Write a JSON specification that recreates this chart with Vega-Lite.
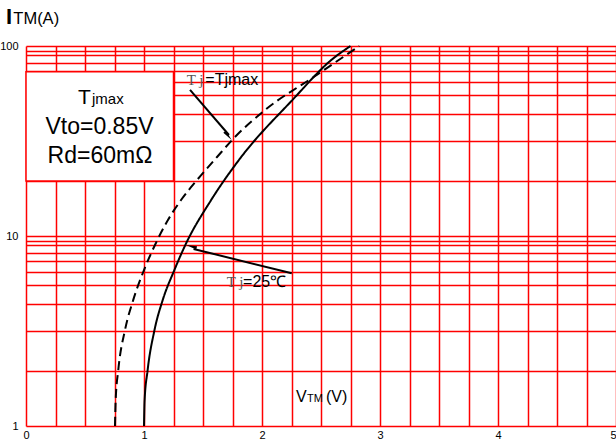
{
  "$schema": "https://vega.github.io/schema/vega-lite/v6.json",
  "width": 590,
  "height": 380,
  "autosize": "none",
  "padding": {"left": 26, "top": 46, "right": 0, "bottom": 15},
  "background": "white",
  "config": {"view": {"stroke": null}, "font": "Liberation Sans"},
  "data": {"values": [{}]},
  "datasets": {
    "curves": [
      {"series": "25C", "v": 1.0, "i": 1},
      {"series": "25C", "v": 1.005, "i": 1.36},
      {"series": "25C", "v": 1.03, "i": 1.95},
      {"series": "25C", "v": 1.088, "i": 3.18},
      {"series": "25C", "v": 1.158, "i": 4.59},
      {"series": "25C", "v": 1.257, "i": 6.61},
      {"series": "25C", "v": 1.35, "i": 8.96},
      {"series": "25C", "v": 1.57, "i": 15.5},
      {"series": "25C", "v": 1.806, "i": 25.2},
      {"series": "25C", "v": 2.263, "i": 52.4},
      {"series": "25C", "v": 2.593, "i": 85},
      {"series": "25C", "v": 2.75, "i": 100},
      {"series": "Tjmax", "v": 0.754, "i": 1},
      {"series": "Tjmax", "v": 0.76, "i": 1.37},
      {"series": "Tjmax", "v": 0.782, "i": 1.97},
      {"series": "Tjmax", "v": 0.839, "i": 3.2},
      {"series": "Tjmax", "v": 0.909, "i": 4.61},
      {"series": "Tjmax", "v": 1.0, "i": 6.62},
      {"series": "Tjmax", "v": 1.093, "i": 8.97},
      {"series": "Tjmax", "v": 1.203, "i": 12.14},
      {"series": "Tjmax", "v": 1.314, "i": 15.47},
      {"series": "Tjmax", "v": 1.449, "i": 19.7},
      {"series": "Tjmax", "v": 1.619, "i": 26.05},
      {"series": "Tjmax", "v": 1.763, "i": 32.8},
      {"series": "Tjmax", "v": 2.025, "i": 46.0},
      {"series": "Tjmax", "v": 2.464, "i": 70.4},
      {"series": "Tjmax", "v": 2.825, "i": 100}
    ]
  },
  "layer": [
    {
      "mark": {"type": "rect", "fill": "white", "stroke": "#ff0000", "strokeWidth": 1.5},
      "encoding": {
        "x": {"datum": 0, "type": "quantitative", "scale": {"domain": [0, 5], "nice": false, "zero": false}},
        "x2": {"datum": 1.25},
        "y": {"datum": 19.5, "type": "quantitative", "scale": {"type": "log", "domain": [1, 100], "nice": false}},
        "y2": {"datum": 73.2}
      }
    },
    {
      "data": {"name": "curves"},
      "mark": {"type": "line", "color": "black", "strokeWidth": 2, "interpolate": "monotone"},
      "encoding": {
        "x": {
          "field": "v", "type": "quantitative",
          "scale": {"domain": [0, 5], "nice": false, "zero": false},
          "axis": {
            "values": [0, 0.25, 0.5, 0.75, 1, 1.25, 1.5, 1.75, 2, 2.25, 2.5, 2.75, 3, 3.25, 3.5, 3.75, 4, 4.25, 4.5, 4.75, 5],
            "tickCount": 40,
            "labelExpr": "datum.value % 1 === 0 ? format(datum.value, 'd') : ''",
            "labelAlign": {"condition": {"test": "datum.value == 5", "value": "right"}, "value": "center"},
            "title": null, "domain": false, "ticks": false,
            "grid": true, "gridColor": "#ff0000", "gridWidth": 1.5, "gridOpacity": 1,
            "labelFontSize": 11, "labelColor": "black", "labelPadding": 3,
            "labelFont": "Liberation Sans", "labelOverlap": false, "labelFlush": false
          }
        },
        "y": {
          "field": "i", "type": "quantitative",
          "scale": {"type": "log", "domain": [1, 100], "nice": false},
          "axis": {
            "values": [1, 1.94, 3.15, 4.38, 5.5, 6.45, 7.35, 8.1, 8.92, 9.42, 10, 19.4, 31.5, 43.8, 55, 64.5, 73.5, 81, 89.2, 94.2, 100],
            "tickCount": 40,
            "labelExpr": "datum.value == 1 || datum.value == 10 || datum.value == 100 ? format(datum.value, 'd') : ''",
            "title": null, "domain": false, "ticks": false,
            "grid": true, "gridColor": "#ff0000", "gridWidth": 1.5, "gridOpacity": 1,
            "labelFontSize": 11, "labelColor": "black", "labelPadding": 8,
            "labelFont": "Liberation Sans", "labelOverlap": false, "labelFlush": false
          }
        },
        "strokeDash": {
          "field": "series", "type": "nominal",
          "scale": {"domain": ["25C", "Tjmax"], "range": [[1, 0], [9, 5]]},
          "legend": null
        }
      }
    },
    {
      "mark": {"type": "rule", "color": "black", "strokeWidth": 2},
      "encoding": {
        "x": {"datum": 1.39, "type": "quantitative"},
        "y": {"datum": 58.7, "type": "quantitative"},
        "x2": {"datum": 1.72},
        "y2": {"datum": 34.0}
      }
    },
    {
      "mark": {"type": "point", "shape": "M0,0L0.3,2L-0.3,2Z", "filled": true, "color": "black", "opacity": 1, "size": 121, "angle": 140},
      "encoding": {
        "x": {"datum": 1.743, "type": "quantitative"},
        "y": {"datum": 32.0, "type": "quantitative"}
      }
    },
    {
      "mark": {"type": "rule", "color": "black", "strokeWidth": 2},
      "encoding": {
        "x": {"datum": 2.252, "type": "quantitative"},
        "y": {"datum": 6.36, "type": "quantitative"},
        "x2": {"datum": 1.42},
        "y2": {"datum": 8.55}
      }
    },
    {
      "mark": {"type": "point", "shape": "M0,0L0.3,2L-0.3,2Z", "filled": true, "color": "black", "opacity": 1, "size": 121, "angle": 285},
      "encoding": {
        "x": {"datum": 1.356, "type": "quantitative"},
        "y": {"datum": 8.97, "type": "quantitative"}
      }
    },
    {
      "mark": {"type": "text", "text": "T", "fontSize": 21, "align": "left", "baseline": "alphabetic", "color": "black", "font": "Liberation Sans"},
      "encoding": {"x": {"datum": 0.4407, "type": "quantitative"}, "y": {"datum": 49.5, "type": "quantitative"}}
    },
    {
      "mark": {"type": "text", "text": "jmax", "fontSize": 15, "align": "left", "baseline": "alphabetic", "color": "black", "font": "Liberation Sans"},
      "encoding": {"x": {"datum": 0.559, "type": "quantitative"}, "y": {"datum": 49.5, "type": "quantitative"}}
    },
    {
      "mark": {"type": "text", "text": "Vto=0.85V", "fontSize": 23, "align": "center", "baseline": "alphabetic", "color": "black", "font": "Liberation Sans"},
      "encoding": {"x": {"datum": 0.623, "type": "quantitative"}, "y": {"datum": 34.4, "type": "quantitative"}}
    },
    {
      "mark": {"type": "text", "text": "Rd=60mΩ", "fontSize": 23, "align": "center", "baseline": "alphabetic", "color": "black", "font": "Liberation Sans"},
      "encoding": {"x": {"datum": 0.627, "type": "quantitative"}, "y": {"datum": 24.2, "type": "quantitative"}}
    },
    {
      "mark": {"type": "text", "text": "T j", "fontSize": 15, "align": "left", "baseline": "alphabetic", "color": "#555555", "font": "Liberation Serif"},
      "encoding": {"x": {"datum": 1.362, "type": "quantitative"}, "y": {"datum": 62.3, "type": "quantitative"}}
    },
    {
      "mark": {"type": "text", "text": "=Tjmax", "fontSize": 16, "align": "left", "baseline": "alphabetic", "color": "black", "font": "Liberation Sans"},
      "encoding": {"x": {"datum": 1.52, "type": "quantitative"}, "y": {"datum": 62.3, "type": "quantitative"}}
    },
    {
      "mark": {"type": "text", "text": "T j", "fontSize": 15, "align": "left", "baseline": "alphabetic", "color": "#555555", "font": "Liberation Serif"},
      "encoding": {"x": {"datum": 1.701, "type": "quantitative"}, "y": {"datum": 5.37, "type": "quantitative"}}
    },
    {
      "mark": {"type": "text", "text": "=25℃", "fontSize": 16, "align": "left", "baseline": "alphabetic", "color": "black", "font": "Liberation Sans"},
      "encoding": {"x": {"datum": 1.84, "type": "quantitative"}, "y": {"datum": 5.37, "type": "quantitative"}}
    },
    {
      "mark": {"type": "text", "text": "V", "fontSize": 16, "align": "left", "baseline": "alphabetic", "color": "black", "font": "Liberation Sans"},
      "encoding": {"x": {"datum": 2.288, "type": "quantitative"}, "y": {"datum": 1.337, "type": "quantitative"}}
    },
    {
      "mark": {"type": "text", "text": "TM", "fontSize": 11, "align": "left", "baseline": "alphabetic", "color": "black", "font": "Liberation Sans"},
      "encoding": {"x": {"datum": 2.381, "type": "quantitative"}, "y": {"datum": 1.337, "type": "quantitative"}}
    },
    {
      "mark": {"type": "text", "text": "(V)", "fontSize": 16, "align": "left", "baseline": "alphabetic", "color": "black", "font": "Liberation Sans"},
      "encoding": {"x": {"datum": 2.542, "type": "quantitative"}, "y": {"datum": 1.337, "type": "quantitative"}}
    },
    {
      "mark": {"type": "text", "text": "I", "fontSize": 22, "fontWeight": "bold", "align": "left", "baseline": "alphabetic", "color": "black", "font": "Liberation Sans"},
      "encoding": {"x": {"datum": -0.17, "type": "quantitative"}, "y": {"datum": 130.6, "type": "quantitative"}}
    },
    {
      "mark": {"type": "text", "text": "TM(A)", "fontSize": 16.5, "align": "left", "baseline": "alphabetic", "color": "black", "font": "Liberation Sans"},
      "encoding": {"x": {"datum": -0.1076, "type": "quantitative"}, "y": {"datum": 130.6, "type": "quantitative"}}
    }
  ]
}
